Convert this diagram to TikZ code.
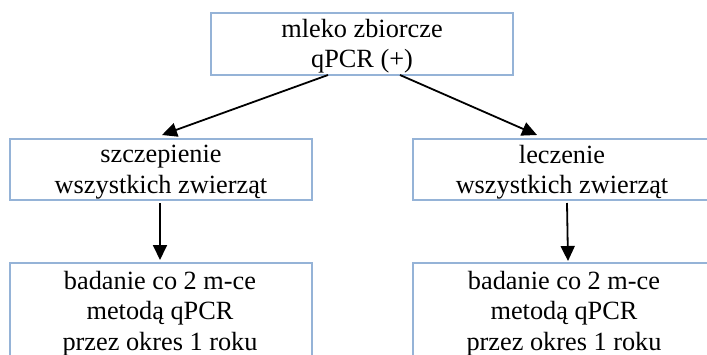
\documentclass[tikz,border=0pt]{standalone}
\usepackage{fontspec}
\setmainfont{Liberation Serif}
\usetikzlibrary{arrows.meta,calc}
\definecolor{boxblue}{RGB}{149,179,215}
\begin{document}
\begin{tikzpicture}[x=1pt,y=-1pt,
  box/.style={draw=boxblue,line width=2.5pt,rectangle,inner sep=0pt,outer sep=0pt},
  lbl/.style={align=center,font=\fontsize{26.3}{30.5}\selectfont,inner sep=0pt,text=black},
  arr/.style={line width=1.8pt,-{Triangle[length=15pt,width=14pt]}}]
\useasboundingbox (0,0) rectangle (707,354);
\clip (0,0) rectangle (707,354);
\node[box,minimum width=302pt,minimum height=62pt] (top) at (362,44) {};
\node[box,minimum width=302pt,minimum height=61pt] (szcz) at (161,169.5) {};
\node[box,minimum width=300pt,minimum height=61pt] (lecz) at (563,169.5) {};
\node[box,minimum width=302pt,minimum height=117pt] (badL) at (161,321.5) {};
\node[box,minimum width=300pt,minimum height=117pt] (badR) at (563,321.5) {};
\node[lbl] (t0) at (362,46.2) {mleko zbiorcze\\qPCR (+)};
\node[lbl] (t1) at (161,172.2) {szczepienie\\wszystkich zwierząt};
\node[lbl] (t2) at (562,172.2) {leczenie\\wszystkich zwierząt};
\node[lbl] (t3) at (160,313.4) {badanie co 2 m-ce\\metodą qPCR\\przez okres 1 roku};
\node[lbl] (t4) at (564,313.4) {badanie co 2 m-ce\\metodą qPCR\\przez okres 1 roku};
\draw[arr] ($(top.south)+(-34,0)$) -- ($(szcz.north)+(1,-4)$);
\draw[arr] ($(top.south)+(38,0)$) -- ($(lecz.north)+(-26,-4)$);
\draw[arr] ($(szcz.south)+(-1,3)$) -- ($(badL.north)+(-1,-3)$);
\draw[arr] ($(lecz.south)+(4,3)$) -- ($(badR.north)+(5,-2)$);
\end{tikzpicture}
\end{document}
